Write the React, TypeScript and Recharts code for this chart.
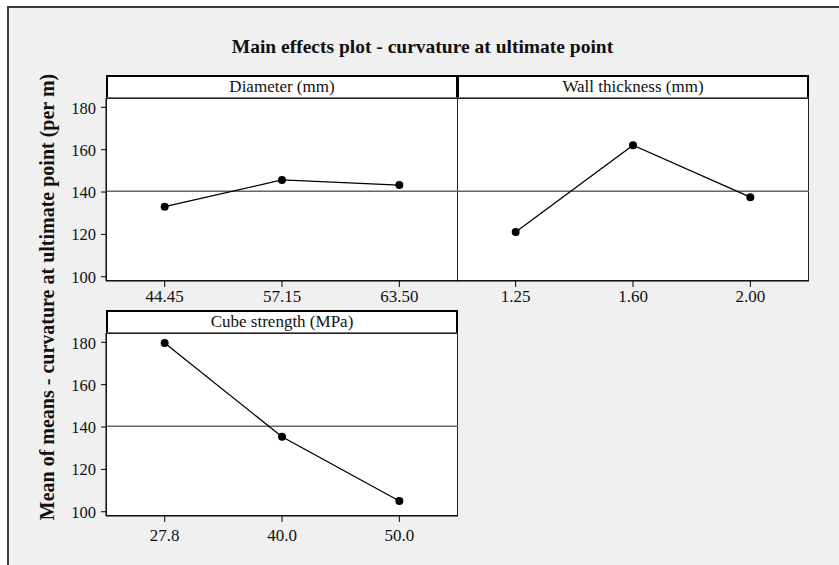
import React from "react";
import { LineChart, Line, XAxis, YAxis, ReferenceLine } from "recharts";

const diameterLevels = ["44.45", "57.15", "63.50"];
const diameterMeans = [133.1, 145.7, 143.3];

const wallLevels = ["1.25", "1.60", "2.00"];
const wallMeans = [121.1, 162.1, 137.6];

const cubeLevels = ["27.8", "40.0", "50.0"];
const cubeMeans = [179.7, 135.4, 105.1];

const yTicks = [100, 120, 140, 160, 180];
const GRAND_MEAN = 140.4;

const FONT = "'Liberation Serif', 'Times New Roman', serif";
const PLOT_W = 352;
const PLOT_H = 183;
const HEADER_H = 23;
const Y_AXIS_W = 50;
const X_AXIS_H = 40;
const X_PAD = PLOT_W / 6;

const toRows = (levels: string[], means: number[]) =>
  levels.map((level, i) => ({ level, mean: means[i] }));

interface PanelProps {
  title: string;
  levels: string[];
  means: number[];
  left: number; // plot area left edge
  top: number; // header top edge
  width: number;
  showY: boolean;
  labelGap?: number;
}

function Panel({ title, levels, means, left, top, width, showY, labelGap = 3 }: PanelProps) {
  const data = toRows(levels, means);
  const yW = showY ? Y_AXIS_W : 0;
  const plotTop = top + HEADER_H;
  return (
    <>
      <div
        style={{
          position: "absolute",
          left,
          top: plotTop,
          width,
          height: PLOT_H,
          background: "#fff",
          boxSizing: "border-box",
          border: "1.5px solid #222",
        }}
      />
      <div
        style={{
          position: "absolute",
          left,
          top,
          width,
          height: HEADER_H,
          background: "#fff",
          boxSizing: "border-box",
          borderTop: "2px solid #000",
          borderLeft: "2px solid #000",
          borderRight: "2px solid #000",
          borderBottom: "1.5px solid #777",
          fontFamily: FONT,
          fontSize: 17,
          lineHeight: "20px",
          textAlign: "center",
          color: "#111",
        }}
      >
        {title}
      </div>
      <div style={{ position: "absolute", left: left - yW, top: plotTop }}>
        <LineChart
          width={width + yW}
          height={PLOT_H + X_AXIS_H}
          data={data}
          margin={{ top: 0, right: 0, bottom: 0, left: 0 }}
        >
          <XAxis
            dataKey="level"
            type="category"
            height={X_AXIS_H}
            padding={{ left: X_PAD, right: X_PAD }}
            tickSize={6}
            tickMargin={labelGap}
            stroke="#000"
            tick={{ fill: "#111", fontSize: 17, fontFamily: FONT }}
          />
          <YAxis
            type="number"
            domain={[98, 184.4]}
            ticks={yTicks}
            width={yW}
            hide={!showY}
            tickSize={5}
            tickMargin={5}
            stroke="#000"
            tick={{ fill: "#111", fontSize: 16.5, fontFamily: FONT }}
          />
          <ReferenceLine y={GRAND_MEAN} stroke="#666" strokeWidth={1.5} />
          <Line
            type="linear"
            dataKey="mean"
            stroke="#000"
            strokeWidth={1.3}
            dot={{ r: 4, fill: "#000", stroke: "#000", strokeWidth: 0 }}
            isAnimationActive={false}
          />
        </LineChart>
      </div>
    </>
  );
}

export default function App() {
  return (
    <div
      style={{
        position: "absolute",
        left: 0,
        top: 0,
        width: 839,
        height: 565,
        background: "#fff",
        overflow: "hidden",
      }}
    >
      <div
        style={{
          position: "absolute",
          left: 7,
          top: 6,
          width: 850,
          height: 580,
          background: "#f0f0f0",
          borderTop: "2px solid #3a3a3a",
          borderLeft: "2px solid #3a3a3a",
        }}
      />
      <div
        style={{
          position: "absolute",
          left: 0,
          width: 839,
          top: 36,
          textAlign: "center",
          fontFamily: FONT,
          fontWeight: "bold",
          fontSize: 19.5,
          color: "#111",
        }}
      >
        <span style={{ position: "relative", left: 3 }}>
          Main effects plot - curvature at ultimate point
        </span>
      </div>
      <svg
        width={80}
        height={565}
        style={{ position: "absolute", left: 0, top: 0 }}
      >
        <text
          x={54}
          y={297}
          transform="rotate(-90 54 297)"
          textAnchor="middle"
          fontFamily={FONT}
          fontWeight="bold"
          fontSize={20}
          fill="#111"
        >
          Mean of means - curvature at ultimate point (per m)
        </text>
      </svg>
      <Panel
        title="Diameter (mm)"
        levels={diameterLevels}
        means={diameterMeans}
        left={106}
        top={75}
        width={PLOT_W}
        showY
      />
      <Panel
        title="Wall thickness (mm)"
        levels={wallLevels}
        means={wallMeans}
        left={457}
        top={75}
        width={PLOT_W}
        showY={false}
      />
      <Panel
        title="Cube strength (MPa)"
        levels={cubeLevels}
        means={cubeMeans}
        left={106}
        top={310}
        width={PLOT_W}
        showY
        labelGap={7}
      />
    </div>
  );
}
